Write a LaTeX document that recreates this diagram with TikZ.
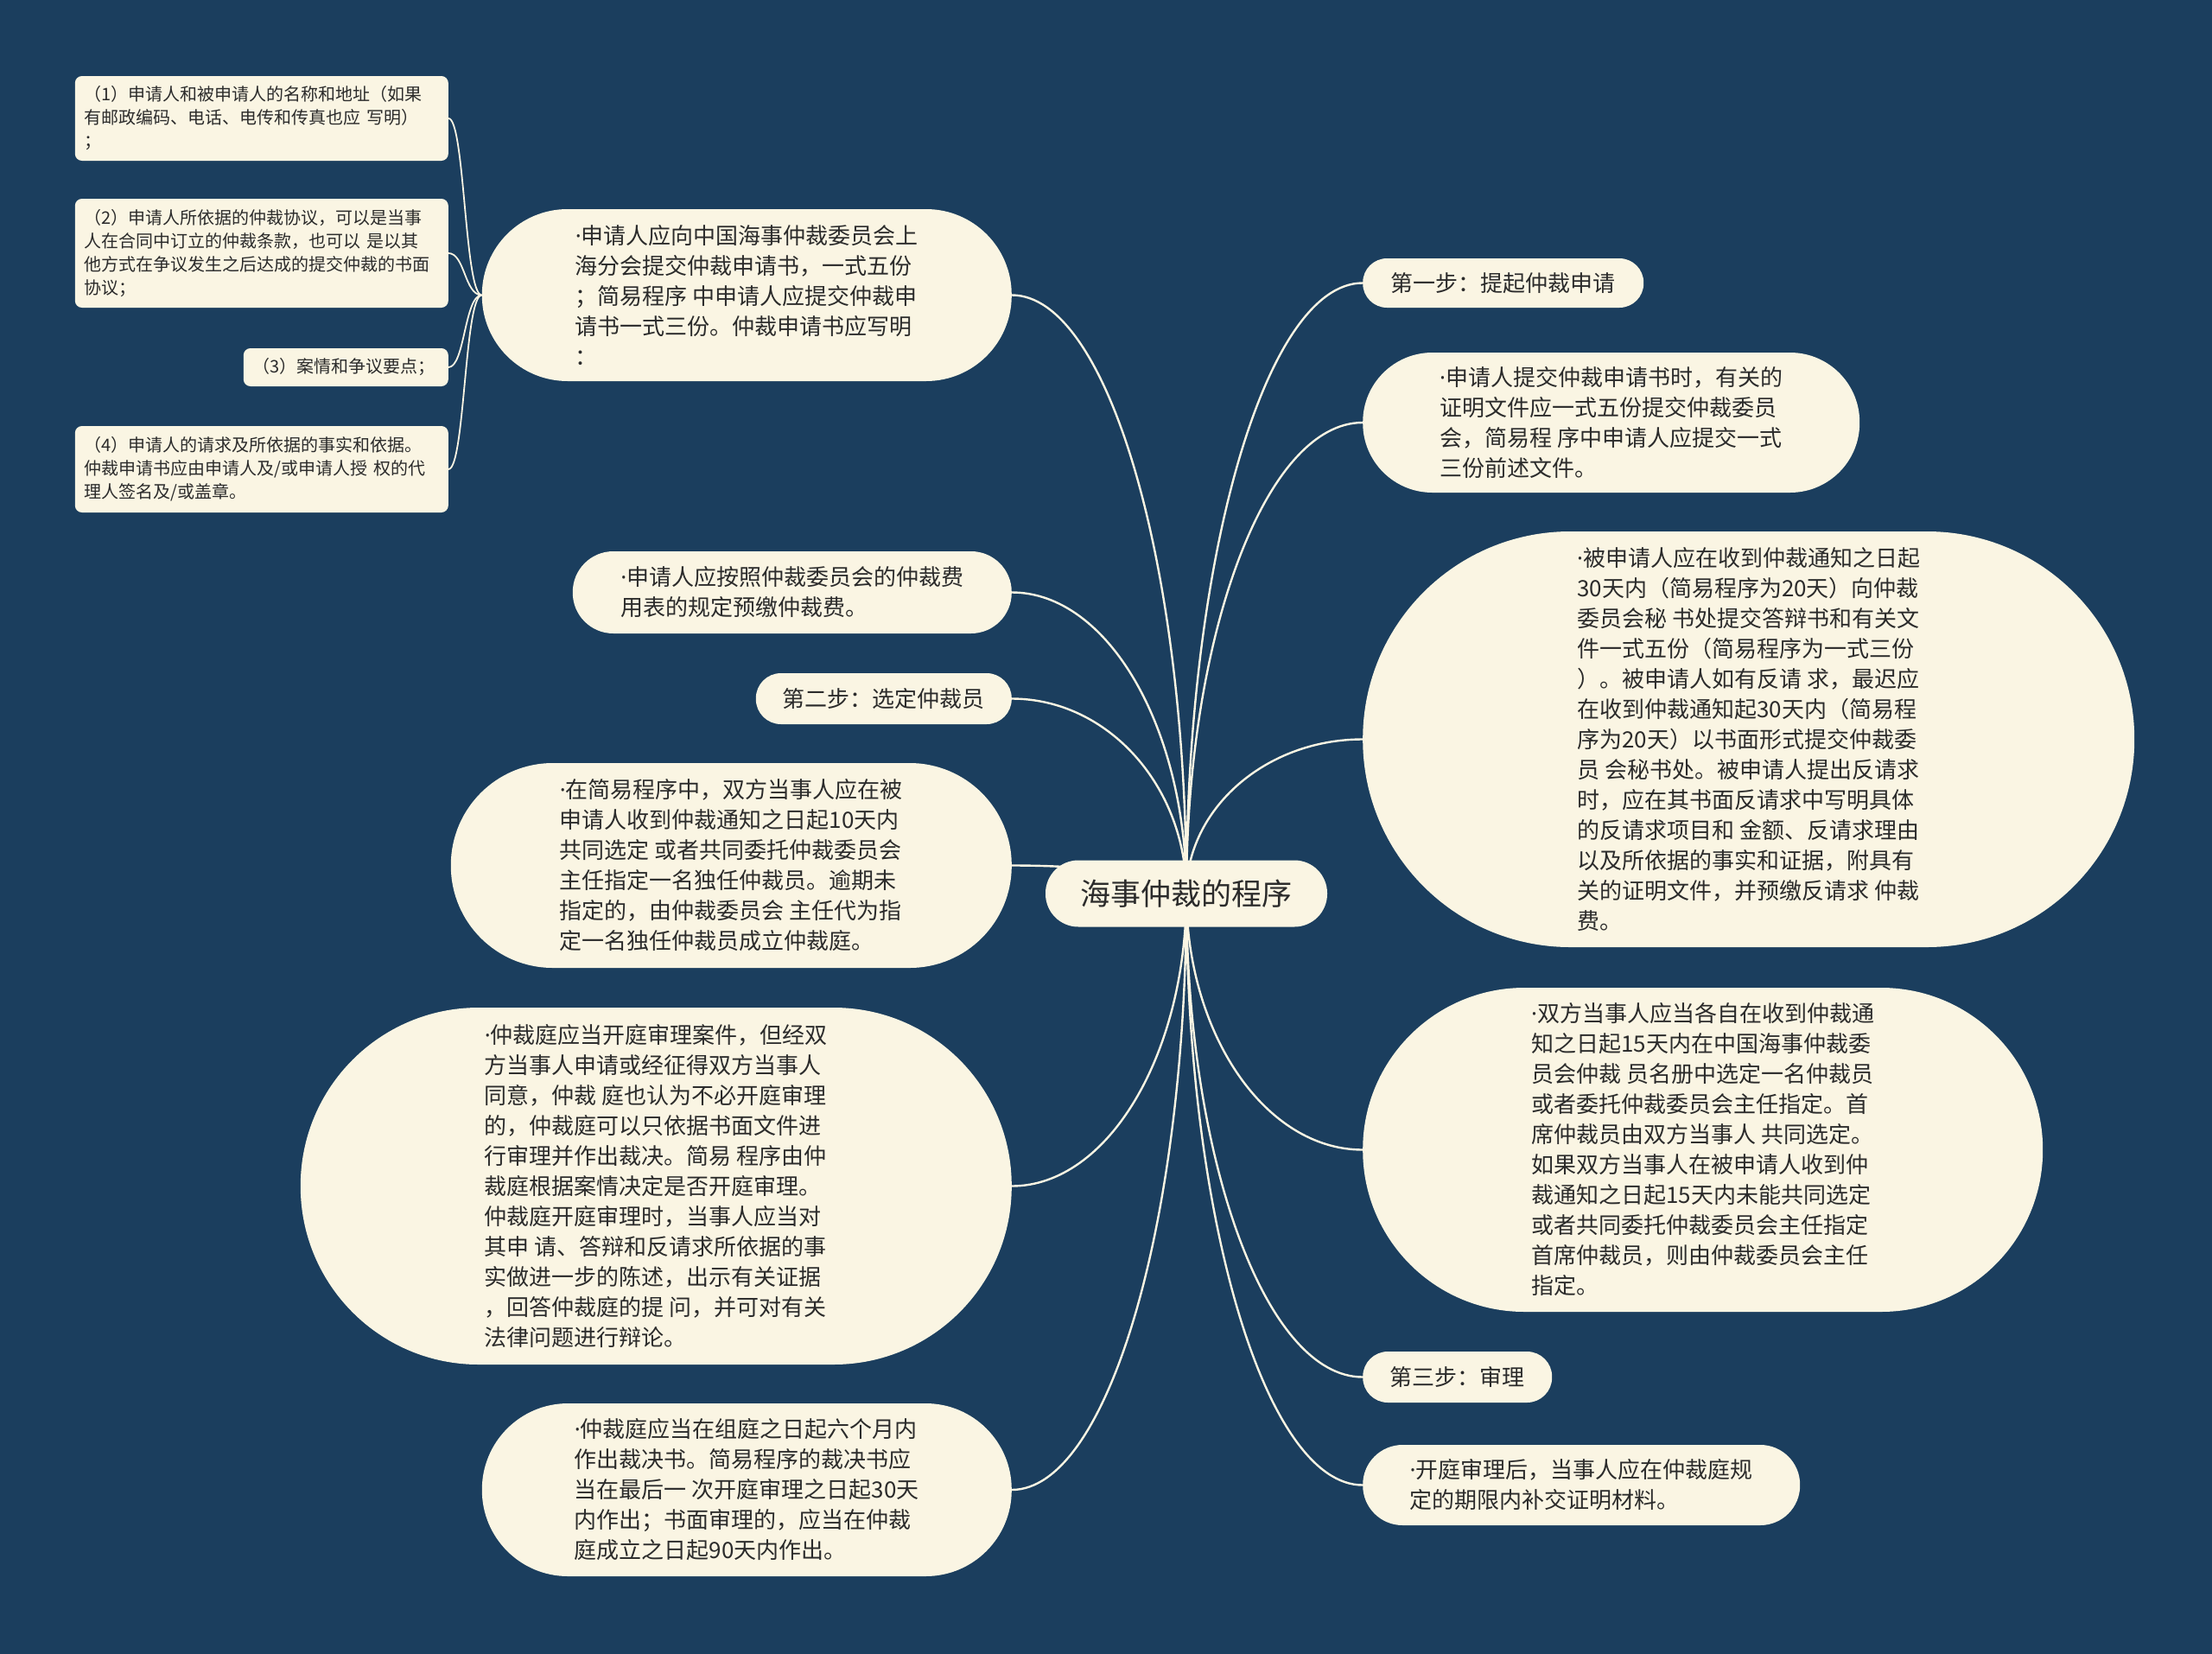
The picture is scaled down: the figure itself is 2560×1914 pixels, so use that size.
\documentclass[tikz,border=0pt]{standalone}
\usepackage{fontspec}
\setmainfont{Noto Sans CJK SC}
\newfontfamily\latfont{Noto Sans}
\newcommand\mdot{{\latfont ·}}
\usetikzlibrary{calc,backgrounds}
\definecolor{mapbg}{HTML}{1B3E5E}
\definecolor{cream}{HTML}{FAF5E3}
\definecolor{ink}{HTML}{2B2B2B}
\tikzset{
  topic/.style 2 args={fill=cream,text=ink,align=left,inner sep=0pt,
    minimum width=#1pt,minimum height=#2pt,rounded corners=#2/2-0.5,
    font=\fontsize{26}{35}\selectfont},
  maintopic/.style={topic={326}{77},align=center,font=\fontsize{35}{42}\selectfont},
  subbox/.style={fill=cream,text=ink,align=left,rounded corners=8pt,
    inner xsep=11pt,inner ysep=0pt,text width=410pt,
    font=\fontsize{20}{27}\selectfont},
  branch/.style={draw=cream,line width=2.4pt},
  twig/.style={draw=cream,line width=1.8pt}
}

\begin{document}
\begin{tikzpicture}[x=1pt,y=-1pt]
  \useasboundingbox (0,0) rectangle (2560,1914);
  % Root
  \node[maintopic] (root) at (1373,1034) {海事仲裁的程序};
  % Right branches
  \node[topic={325}{57},anchor=west] (r1) at (1577,327.5) {第一步：提起仲裁申请};
  \node[topic={575}{162},anchor=west] (r2) at (1577,489)
    {\mdot 申请人提交仲裁申请书时，有关的\\证明文件应一式五份提交仲裁委员\\会，简易程 序中申请人应提交一式\\三份前述文件。};
  \node[topic={893}{481},anchor=west] (r3) at (1577,855.5)
    {\mdot 被申请人应在收到仲裁通知之日起\\30天内（简易程序为20天）向仲裁\\委员会秘 书处提交答辩书和有关文\\件一式五份（简易程序为一式三份\\）。被申请人如有反请 求，最迟应\\在收到仲裁通知起30天内（简易程\\序为20天）以书面形式提交仲裁委\\员 会秘书处。被申请人提出反请求\\时，应在其书面反请求中写明具体\\的反请求项目和 金额、反请求理由\\以及所依据的事实和证据，附具有\\关的证明文件，并预缴反请求 仲裁\\费。};
  \node[topic={787}{375},anchor=west] (r4) at (1577,1330.5)
    {\mdot 双方当事人应当各自在收到仲裁通\\知之日起15天内在中国海事仲裁委\\员会仲裁 员名册中选定一名仲裁员\\或者委托仲裁委员会主任指定。首\\席仲裁员由双方当事人 共同选定。\\如果双方当事人在被申请人收到仲\\裁通知之日起15天内未能共同选定\\或者共同委托仲裁委员会主任指定\\首席仲裁员，则由仲裁委员会主任\\指定。};
  \node[topic={219}{59},anchor=west] (r5) at (1577,1593.5) {第三步：审理};
  \node[topic={506}{93},anchor=west] (r6) at (1577,1718.5)
    {\mdot 开庭审理后，当事人应在仲裁庭规\\定的期限内补交证明材料。};
  % Left branches
  \node[topic={613}{199},anchor=east] (l1) at (1171,341.5)
    {\mdot 申请人应向中国海事仲裁委员会上\\海分会提交仲裁申请书，一式五份\\；简易程序 中申请人应提交仲裁申\\请书一式三份。仲裁申请书应写明\\：};
  \node[topic={508}{95},anchor=east] (l2) at (1171,685.5)
    {\mdot 申请人应按照仲裁委员会的仲裁费\\用表的规定预缴仲裁费。};
  \node[topic={296}{59},anchor=east] (l3) at (1171,808.5) {第二步：选定仲裁员};
  \node[topic={649}{237},anchor=east] (l4) at (1171,1001.5)
    {\mdot 在简易程序中，双方当事人应在被\\申请人收到仲裁通知之日起10天内\\共同选定 或者共同委托仲裁委员会\\主任指定一名独任仲裁员。逾期未\\指定的，由仲裁委员会 主任代为指\\定一名独任仲裁员成立仲裁庭。};
  \node[topic={823}{413},anchor=east] (l5) at (1171,1372.5)
    {\mdot 仲裁庭应当开庭审理案件，但经双\\方当事人申请或经征得双方当事人\\同意，仲裁 庭也认为不必开庭审理\\的，仲裁庭可以只依据书面文件进\\行审理并作出裁决。简易 程序由仲\\裁庭根据案情决定是否开庭审理。\\仲裁庭开庭审理时，当事人应当对\\其申 请、答辩和反请求所依据的事\\实做进一步的陈述，出示有关证据\\，回答仲裁庭的提 问，并可对有关\\法律问题进行辩论。};
  \node[topic={613}{200},anchor=east] (l6) at (1171,1724)
    {\mdot 仲裁庭应当在组庭之日起六个月内\\作出裁决书。简易程序的裁决书应\\当在最后一 次开庭审理之日起30天\\内作出；书面审理的，应当在仲裁\\庭成立之日起90天内作出。};
  % Items of the application
  \node[subbox,minimum height=98pt,anchor=east] (s1) at (519,137)
    {（1）申请人和被申请人的名称和地址（如果\\有邮政编码、电话、电传和传真也应 写明）\\；};
  \node[subbox,minimum height=126pt,anchor=east] (s2) at (519,293)
    {（2）申请人所依据的仲裁协议，可以是当事\\人在合同中订立的仲裁条款，也可以 是以其\\他方式在争议发生之后达成的提交仲裁的书面\\协议；};
  \node[subbox,minimum height=44pt,text width=215pt,anchor=east] (s3) at (519,425)
    {（3）案情和争议要点；};
  \node[subbox,minimum height=100pt,anchor=east] (s4) at (519,543)
    {（4）申请人的请求及所依据的事实和依据。\\仲裁申请书应由申请人及/或申请人授 权的代\\理人签名及/或盖章。};
  % Background and connectors
  \begin{scope}[on background layer]
    \fill[mapbg] (0,0) rectangle (2560,1914);
    \foreach \n in {r1,r2,r3,r4,r5,r6}
      \draw[branch] (root.center) .. controls ($(root.center)!.55!(root.center|-\n.west)$)
        and ($(\n.west)!.55!(root.center|-\n.west)$) .. (\n.west);
    \foreach \n in {l1,l2,l3,l4,l5,l6}
      \draw[branch] (root.center) .. controls ($(root.center)!.55!(root.center|-\n.east)$)
        and ($(\n.east)!.55!(root.center|-\n.east)$) .. (\n.east);
    \foreach \n in {s1,s2,s3,s4}
      \draw[twig] (l1.west) .. controls ($(l1.west)+(-20,0)$) and ($(\n.east)+(19,0)$) .. (\n.east);
  \end{scope}
\end{tikzpicture}
\end{document}
